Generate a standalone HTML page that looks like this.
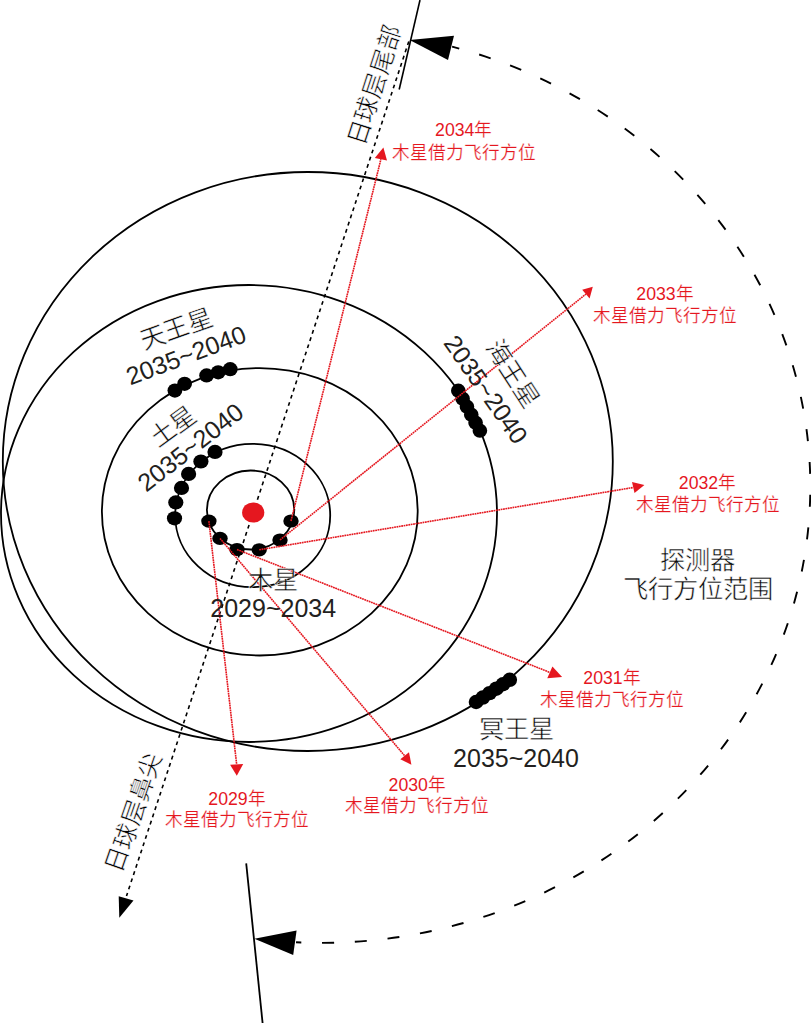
<!DOCTYPE html>
<html lang="zh-CN">
<head>
<meta charset="utf-8">
<style>
html,body{margin:0;padding:0;background:#fff;}
body{width:811px;height:1024px;overflow:hidden;}
svg{display:block;font-family:"Liberation Sans",sans-serif;}
.red{fill:#e5171f;font-size:17.7px;}
.red .cjk{stroke:#fff;stroke-width:0.22px;}
.g{fill:#0a0a0a;stroke:#fff;stroke-width:0.5px;}
.t{fill:#000;stroke:#fff;stroke-width:0.55px;}
.d{fill:#231f20;}
</style>
</head>
<body>
<svg width="811" height="1024" viewBox="0 0 811 1024">
<rect width="811" height="1024" fill="#fff"/>
<g fill="none" stroke="#000" stroke-width="1.8">
  <ellipse cx="307.8" cy="461.5" rx="305" ry="289.5"/>
  <ellipse cx="249" cy="513.5" rx="248" ry="228.5"/>
  <ellipse cx="259.8" cy="511.8" rx="157.9" ry="143.7"/>
  <ellipse cx="252.7" cy="515.5" rx="77.5" ry="71.6"/>
  <ellipse cx="250.6" cy="510" rx="43.7" ry="39.5"/>
</g>
<line x1="408.8" y1="41.4" x2="126.5" y2="896" stroke="#000" stroke-width="1.6" stroke-dasharray="3.8 3.8"/>
<polygon points="119.3,917.8 118.7,896.3 133.5,900.4" fill="#000"/>
<line x1="420" y1="0" x2="399.2" y2="89.5" stroke="#000" stroke-width="1.6"/>
<polygon points="409.6,40 454,35.8 448,60" fill="#000"/>
<line x1="246.2" y1="863.3" x2="262.6" y2="1023" stroke="#000" stroke-width="1.8"/>
<polygon points="254.4,938.8 296.6,930.6 293.2,955" fill="#000"/>
<path d="M452.09,46.69 A489.630,456.466 0 0 1 296.04,942.30" fill="none" stroke="#000" stroke-width="1.9" stroke-dasharray="12 20.79" stroke-dashoffset="4.5"/>
<g fill="#000">
<ellipse cx="174.90" cy="390.60" rx="7.4" ry="7.1"/>
<ellipse cx="184.60" cy="383.80" rx="7.4" ry="7.1"/>
<ellipse cx="206.60" cy="375.40" rx="7.4" ry="7.1"/>
<ellipse cx="218.20" cy="372.30" rx="7.4" ry="7.1"/>
<ellipse cx="230.20" cy="369.20" rx="7.4" ry="7.1"/>
<ellipse cx="215.00" cy="451.90" rx="7.6" ry="7.1"/>
<ellipse cx="200.90" cy="461.50" rx="7.6" ry="7.1"/>
<ellipse cx="188.60" cy="473.90" rx="7.6" ry="7.1"/>
<ellipse cx="181.50" cy="487.90" rx="7.6" ry="7.1"/>
<ellipse cx="175.80" cy="502.40" rx="7.6" ry="7.1"/>
<ellipse cx="174.50" cy="518.30" rx="7.6" ry="7.1"/>
<ellipse cx="208.90" cy="521.10" rx="7.7" ry="6.6"/>
<ellipse cx="220.00" cy="538.40" rx="7.7" ry="6.6"/>
<ellipse cx="237.00" cy="549.50" rx="7.7" ry="6.6"/>
<ellipse cx="259.20" cy="549.80" rx="7.7" ry="6.6"/>
<ellipse cx="280.00" cy="540.00" rx="7.7" ry="6.6"/>
<ellipse cx="291.00" cy="521.00" rx="7.7" ry="6.6"/>
<ellipse cx="458.30" cy="390.70" rx="7.3" ry="7.1"/>
<ellipse cx="462.62" cy="398.70" rx="7.3" ry="7.1"/>
<ellipse cx="466.94" cy="406.70" rx="7.3" ry="7.1"/>
<ellipse cx="471.26" cy="414.70" rx="7.3" ry="7.1"/>
<ellipse cx="475.58" cy="422.70" rx="7.3" ry="7.1"/>
<ellipse cx="479.90" cy="430.70" rx="7.3" ry="7.1"/>
<ellipse cx="476.10" cy="702.00" rx="7.4" ry="7.2"/>
<ellipse cx="482.82" cy="697.56" rx="7.4" ry="7.2"/>
<ellipse cx="489.54" cy="693.12" rx="7.4" ry="7.2"/>
<ellipse cx="496.26" cy="688.68" rx="7.4" ry="7.2"/>
<ellipse cx="502.98" cy="684.24" rx="7.4" ry="7.2"/>
<ellipse cx="509.70" cy="679.80" rx="7.4" ry="7.2"/>
</g>
<ellipse cx="253.2" cy="512.5" rx="11.1" ry="10.1" fill="#e5171f"/>
<g stroke="#e5171f" stroke-width="1.6" stroke-dasharray="1.8 0.6">
<line x1="208.9" y1="521.1" x2="236.65" y2="764.35"/>
<line x1="220" y1="538.4" x2="404.65" y2="755.75"/>
<line x1="237" y1="549.5" x2="549.85" y2="672.40"/>
<line x1="259.2" y1="549.8" x2="633.25" y2="487.50"/>
<line x1="280" y1="540" x2="585.90" y2="294.05"/>
<line x1="291" y1="521" x2="380.90" y2="159.25"/>
</g>
<g fill="#e5171f">
<polygon points="236.8,775.8 230.1,764.7 243.2,764"/>
<polygon points="411.4,764.7 400.3,759.2 409,752.3"/>
<polygon points="562.1,677.1 552.4,666.6 547.3,678.2"/>
<polygon points="644.4,485.1 632,482 634.5,493"/>
<polygon points="592.8,286.8 582.2,289.7 589.6,298.4"/>
<polygon points="383.4,147.5 374.8,158 387,160.5"/>
</g>
<g class="red" text-anchor="middle">
<text x="463.8" y="136">2034<tspan class="cjk">年</tspan></text>
<text x="463.8" y="158.6" class="cjk">木星借力飞行方位</text>
<text x="665" y="300">2033<tspan class="cjk">年</tspan></text>
<text x="665" y="322" class="cjk">木星借力飞行方位</text>
<text x="707.5" y="488.6">2032<tspan class="cjk">年</tspan></text>
<text x="707.5" y="511" class="cjk">木星借力飞行方位</text>
<text x="612" y="684.4">2031<tspan class="cjk">年</tspan></text>
<text x="612" y="705.5" class="cjk">木星借力飞行方位</text>
<text x="417.3" y="790.6">2030<tspan class="cjk">年</tspan></text>
<text x="417.3" y="812" class="cjk">木星借力飞行方位</text>
<text x="237" y="804.6">2029<tspan class="cjk">年</tspan></text>
<text x="237" y="826" class="cjk">木星借力飞行方位</text>
</g>
<g text-anchor="middle">
<text x="273.3" y="589" font-size="25.3" class="g">木星</text>
<text x="273.2" y="617.2" font-size="25" class="d">2029~2034</text>
<text x="516" y="738" font-size="25.3" class="g">冥王星</text>
<text x="516" y="767" font-size="25" class="d">2035~2040</text>
<text x="697.4" y="568.5" font-size="25.3" class="g">探测器</text>
<text x="697.7" y="597.5" font-size="25.3" class="g">飞行方位范围</text>
<g transform="translate(176,328.5) rotate(-19.4)"><text x="0" y="9.11" font-size="25.3" class="g" style="">天王星</text></g>
<g transform="translate(186,355) rotate(-20.6)"><text x="0" y="9.00" font-size="25" class="d" style="">2035~2040</text></g>
<g transform="translate(173.1,426.25) rotate(-36)"><text x="0" y="9.11" font-size="25.3" class="g" style="">土星</text></g>
<g transform="translate(190.3,447.0) rotate(-38)"><text x="0" y="9.00" font-size="25" class="d" style="">2035~2040</text></g>
<g transform="translate(512.75,373.6) rotate(57)"><text x="0" y="9.11" font-size="25.3" class="g" style="">海王星</text></g>
<g transform="translate(486.1,389.3) rotate(55)"><text x="0" y="9.00" font-size="25" class="d" style="">2035~2040</text></g>
<g transform="translate(374.45,85.1) rotate(-72.1)"><text x="0" y="8.95" font-size="24.85" class="t" style="">日球层尾部</text></g>
<g transform="translate(133.3,812.2) rotate(-71)"><text x="0" y="8.96" font-size="24.9" class="t" style="">日球层鼻尖</text></g>
</g>
</svg>
</body>
</html>
